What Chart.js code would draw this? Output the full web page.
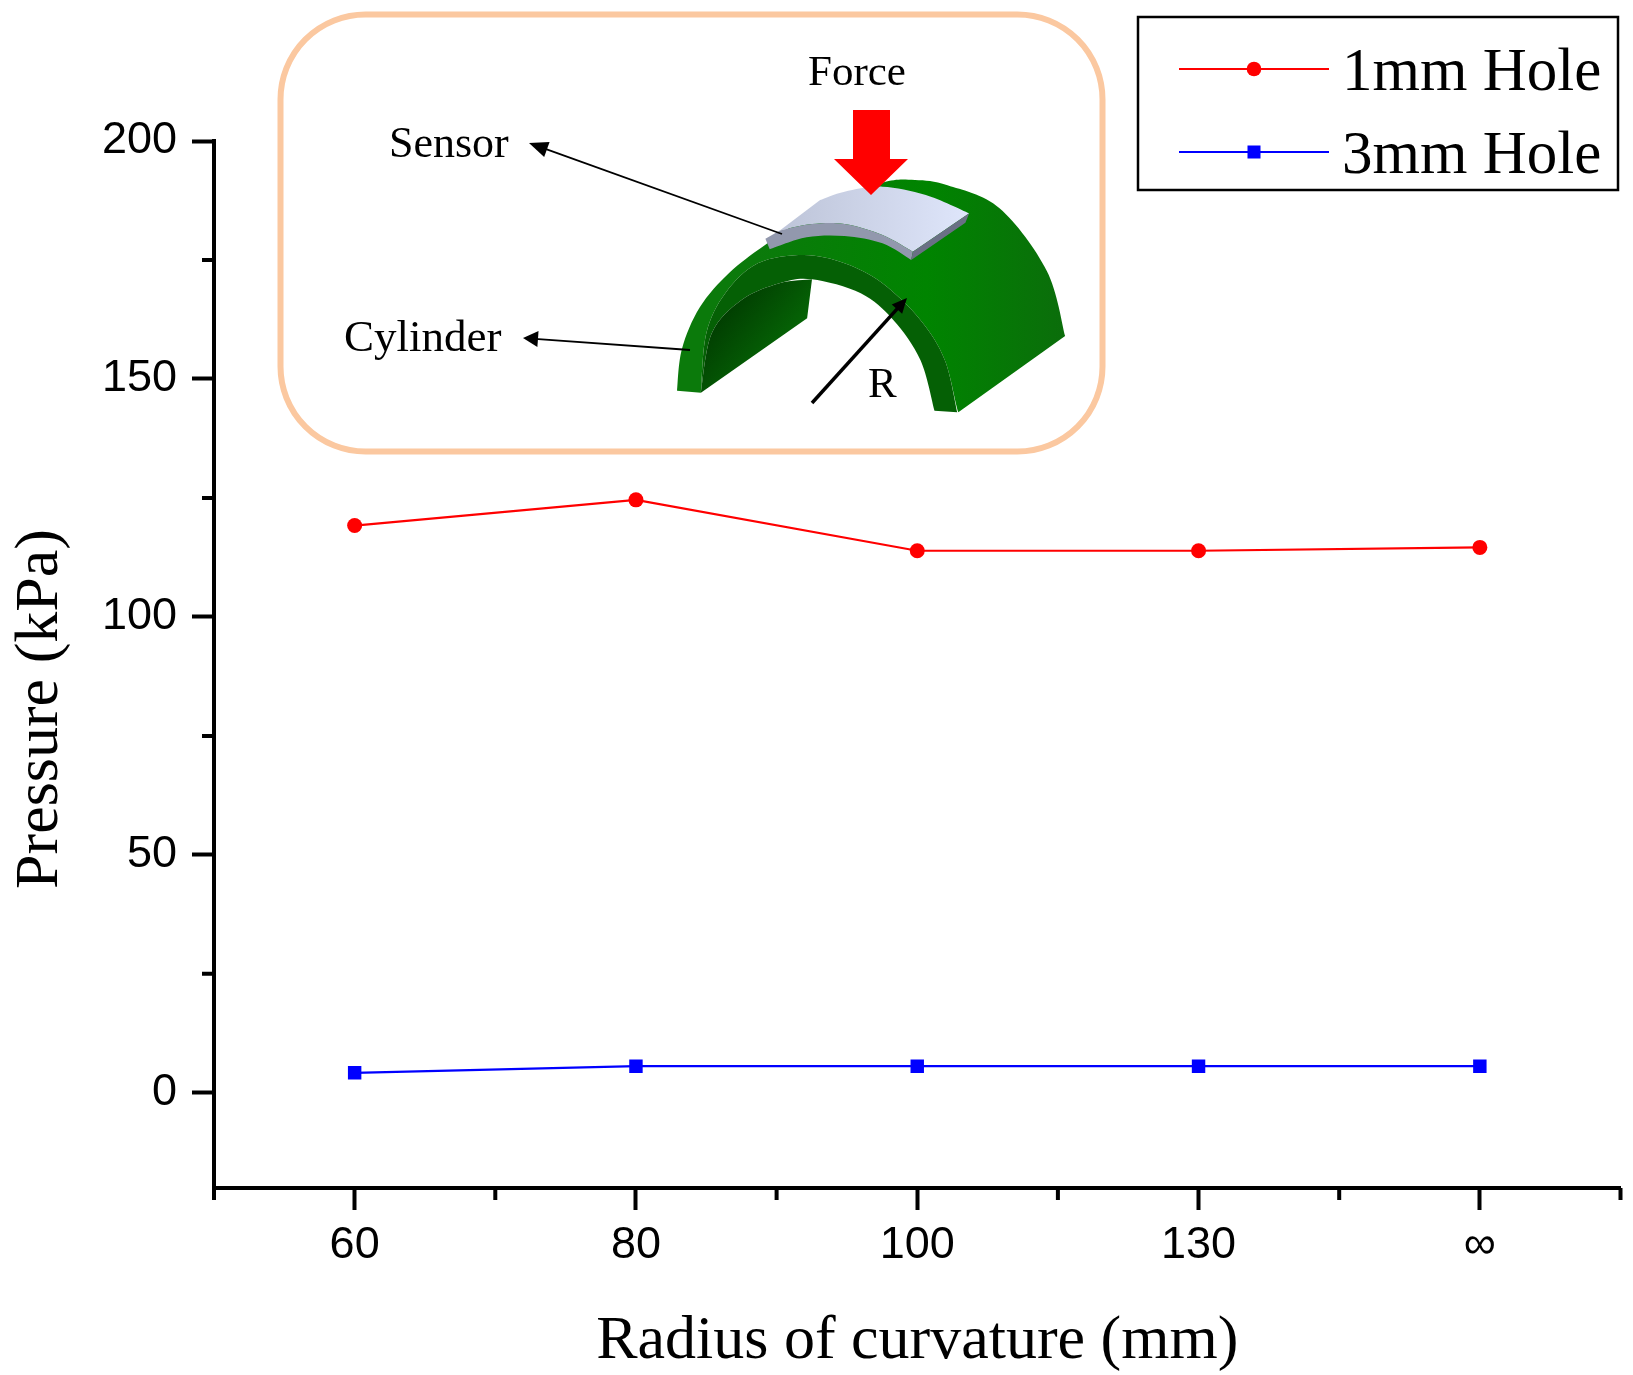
<!DOCTYPE html>
<html>
<head>
<meta charset="utf-8">
<title>Pressure vs radius of curvature</title>
<script src="https://cdn.jsdelivr.net/npm/chart.js@4"></script>
<style>
  html, body { margin: 0; padding: 0; background: #fff; }
  canvas { display: block; }
</style>
</head>
<body>
<canvas id="chart" width="1633" height="1375"></canvas>
<script>
// data
const categories = ['60', '80', '100', '130', '\u221E'];
const hole1mm = [119.2, 124.6, 113.9, 113.9, 114.6];
const hole3mm = [4.2, 5.6, 5.6, 5.6, 5.6];
const yMajorTicks = [0, 50, 100, 150, 200];
const yMinorTicks = [25, 75, 125, 175];
const xMinorTicks = [-0.5, 0.5, 1.5, 2.5, 3.5, 4.5];
const seriesNames = ['1mm Hole', '3mm Hole'];
const xTitle = 'Radius of curvature (mm)';
const yTitle = 'Pressure (kPa)';

const SERIF = '"Liberation Serif", serif';
const SANS = '"Liberation Sans", Arial, sans-serif';
const AXIS_WIDTH = 4;

// minor ticks, the library only has one tick length per axis
const minorTicks = {
  id: 'minorTicks',
  afterDraw(chart) {
    const { ctx, scales: { x, y } } = chart;
    ctx.save();
    ctx.strokeStyle = '#000';
    ctx.lineWidth = AXIS_WIDTH;
    ctx.beginPath();
    xMinorTicks.forEach(v => {
      const px = x.getPixelForValue(v);
      ctx.moveTo(px, x.top);
      ctx.lineTo(px, x.top + 12);
    });
    yMinorTicks.forEach(v => {
      const py = y.getPixelForValue(v);
      ctx.moveTo(y.right, py);
      ctx.lineTo(y.right - 12, py);
    });
    ctx.stroke();
    ctx.restore();
  }
};

// y title sits lower than the middle of the axis in the figure
const yTitlePlugin = {
  id: 'yTitlePlugin',
  afterDraw(chart) {
    const { ctx } = chart;
    ctx.save();
    ctx.translate(41, 709);
    ctx.rotate(-Math.PI / 2);
    ctx.font = '62px ' + SERIF;
    ctx.fillStyle = '#000';
    ctx.textAlign = 'center';
    ctx.textBaseline = 'middle';
    ctx.fillText(yTitle, 0, 0);
    ctx.restore();
  }
};

// legend box: line with the marker in the middle
const boxLegend = {
  id: 'boxLegend',
  afterDraw(chart) {
    const { ctx } = chart;
    ctx.save();
    ctx.fillStyle = '#fff';
    ctx.fillRect(1138, 17, 480, 173);
    ctx.strokeStyle = '#000';
    ctx.lineWidth = 2.5;
    ctx.strokeRect(1138, 17, 480, 173);
    const rows = [69, 152];
    chart.data.datasets.forEach((ds, i) => {
      const yy = rows[i];
      ctx.strokeStyle = ds.borderColor;
      ctx.fillStyle = ds.borderColor;
      ctx.lineWidth = 2;
      ctx.beginPath();
      ctx.moveTo(1179, yy);
      ctx.lineTo(1329, yy);
      ctx.stroke();
      if (ds.pointStyle === 'circle') {
        ctx.beginPath();
        ctx.arc(1254, yy, 7.3, 0, Math.PI * 2);
        ctx.fill();
      } else {
        ctx.fillRect(1247.5, yy - 6.5, 13, 13);
      }
      ctx.fillStyle = '#000';
      ctx.font = '61px ' + SERIF;
      ctx.textAlign = 'left';
      ctx.textBaseline = 'alphabetic';
      ctx.fillText(ds.label, 1342, yy + 21);
    });
    ctx.restore();
  }
};

// inset drawing, coordinates measured on the zoomed crop
const ix = v => 270 + v / 1.845;
const iy = v => v / 3;

// continues the current path through pts (catmull-rom), path must already be at pts[0]
function curveThrough(ctx, pts) {
  for (let i = 0; i < pts.length - 1; i++) {
    const p0 = pts[Math.max(i - 1, 0)];
    const p1 = pts[i];
    const p2 = pts[i + 1];
    const p3 = pts[Math.min(i + 2, pts.length - 1)];
    ctx.bezierCurveTo(
      ix(p1[0] + (p2[0] - p0[0]) / 6), iy(p1[1] + (p2[1] - p0[1]) / 6),
      ix(p2[0] - (p3[0] - p1[0]) / 6), iy(p2[1] - (p3[1] - p1[1]) / 6),
      ix(p2[0]), iy(p2[1])
    );
  }
}

function arrow(ctx, x1, y1, x2, y2, width, headLen, headWide) {
  const a = Math.atan2(y2 - y1, x2 - x1);
  ctx.strokeStyle = '#000';
  ctx.fillStyle = '#000';
  ctx.lineWidth = width;
  ctx.beginPath();
  ctx.moveTo(x1, y1);
  ctx.lineTo(x2 - Math.cos(a) * headLen * 0.8, y2 - Math.sin(a) * headLen * 0.8);
  ctx.stroke();
  ctx.beginPath();
  ctx.moveTo(x2, y2);
  ctx.lineTo(x2 - Math.cos(a) * headLen - Math.sin(a) * headWide, y2 - Math.sin(a) * headLen + Math.cos(a) * headWide);
  ctx.lineTo(x2 - Math.cos(a) * headLen + Math.sin(a) * headWide, y2 - Math.sin(a) * headLen - Math.cos(a) * headWide);
  ctx.closePath();
  ctx.fill();
}

const ringOuter = [[795, 1178], [805, 1000], [840, 880], [900, 790], [985, 765], [1060, 790], [1130, 850], [1200, 960], [1245, 1080], [1268, 1237]];
const ringInner = [[1226, 1232], [1200, 1080], [1150, 960], [1090, 880], [1000, 838], [940, 850], [870, 900], [815, 1000], [795, 1178]];

const inset = {
  id: 'inset',
  afterDraw(chart) {
    const { ctx } = chart;
    ctx.save();

    // frame
    ctx.strokeStyle = '#FBC8A0';
    ctx.lineWidth = 6;
    ctx.beginPath();
    ctx.roundRect(280.5, 14.5, 822, 437, 85);
    ctx.stroke();

    // cylinder outer surface
    let g = ctx.createLinearGradient(ix(900), 0, ix(1467), 0);
    g.addColorStop(0, '#0b7a0b');
    g.addColorStop(0.55, '#008400');
    g.addColorStop(1, '#0b6d0b');
    ctx.fillStyle = g;
    ctx.beginPath();
    ctx.moveTo(ix(751), iy(1172));
    curveThrough(ctx, [[751, 1172], [760, 1047], [793, 922], [847, 819], [914, 734], [1020, 620], [1130, 548], [1190, 540], [1250, 556], [1346, 625], [1433, 812], [1467, 1008]]);
    ctx.lineTo(ix(1270), iy(1237));
    curveThrough(ctx, ringOuter.slice().reverse());
    ctx.closePath();
    ctx.fill();

    // front ring
    ctx.fillStyle = '#056005';
    ctx.beginPath();
    ctx.moveTo(ix(795), iy(1178));
    curveThrough(ctx, ringOuter);
    ctx.lineTo(ix(1226), iy(1232));
    curveThrough(ctx, ringInner);
    ctx.closePath();
    ctx.fill();

    // inside of the cylinder
    g = ctx.createLinearGradient(ix(850), iy(900), ix(960), iy(1050));
    g.addColorStop(0, '#013d01');
    g.addColorStop(1, '#066806');
    ctx.fillStyle = g;
    ctx.beginPath();
    ctx.moveTo(ix(1000), iy(838));
    curveThrough(ctx, [[1000, 838], [940, 850], [870, 900], [815, 1000], [795, 1178]]);
    ctx.lineTo(ix(991), iy(955));
    ctx.closePath();
    ctx.fill();

    // sensor top
    g = ctx.createLinearGradient(ix(960), 0, ix(1290), 0);
    g.addColorStop(0, '#bfc6da');
    g.addColorStop(1, '#dfe6fb');
    ctx.fillStyle = g;
    ctx.beginPath();
    ctx.moveTo(ix(940), iy(692));
    ctx.lineTo(ix(1015), iy(600));
    curveThrough(ctx, [[1015, 600], [1060, 575], [1130, 560], [1210, 585], [1290, 640]]);
    ctx.lineTo(ix(1186), iy(755));
    curveThrough(ctx, [[1186, 755], [1130, 705], [1060, 672], [1000, 672], [940, 692]]);
    ctx.closePath();
    ctx.fill();

    // sensor front edge
    ctx.fillStyle = '#9298ad';
    ctx.beginPath();
    ctx.moveTo(ix(914), iy(716));
    ctx.lineTo(ix(940), iy(692));
    curveThrough(ctx, [[940, 692], [1000, 672], [1060, 672], [1130, 705], [1186, 755]]);
    ctx.lineTo(ix(1183), iy(780));
    curveThrough(ctx, [[1183, 780], [1130, 730], [1060, 708], [990, 712], [922, 748]]);
    ctx.closePath();
    ctx.fill();

    // sensor side edge
    ctx.fillStyle = '#6a7085';
    ctx.beginPath();
    ctx.moveTo(ix(1290), iy(640));
    ctx.lineTo(ix(1283), iy(668));
    ctx.lineTo(ix(1183), iy(780));
    ctx.lineTo(ix(1186), iy(755));
    ctx.closePath();
    ctx.fill();

    // force arrow
    ctx.fillStyle = '#FF0000';
    ctx.beginPath();
    ctx.moveTo(853, 110);
    ctx.lineTo(890, 110);
    ctx.lineTo(890, 159);
    ctx.lineTo(908, 159);
    ctx.lineTo(871, 195);
    ctx.lineTo(834, 159);
    ctx.lineTo(853, 159);
    ctx.closePath();
    ctx.fill();

    // pointer arrows
    arrow(ctx, 782, 234, 529, 143, 1.8, 19, 8);
    arrow(ctx, 690, 350, 523, 338, 1.8, 15, 8);
    arrow(ctx, 812, 403, 907, 298, 3.5, 15, 7);

    // labels
    ctx.fillStyle = '#000';
    ctx.textAlign = 'left';
    ctx.textBaseline = 'alphabetic';
    ctx.font = '43px ' + SERIF;
    ctx.fillText('Force', 808, 85);
    ctx.fillText('R', 868, 397);
    ctx.font = '44px ' + SERIF;
    ctx.fillText('Sensor', 389, 157);
    ctx.font = '45px ' + SERIF;
    ctx.fillText('Cylinder', 344, 351);
    ctx.restore();
  }
};

new Chart(document.getElementById('chart'), {
  type: 'line',
  plugins: [minorTicks, yTitlePlugin, boxLegend, inset],
  data: {
    labels: categories,
    datasets: [
      {
        label: seriesNames[0],
        data: hole1mm,
        borderColor: '#FF0000',
        backgroundColor: '#FF0000',
        borderWidth: 2.2,
        pointStyle: 'circle',
        pointRadius: 7.5,
        pointBorderWidth: 0,
        tension: 0
      },
      {
        label: seriesNames[1],
        data: hole3mm,
        borderColor: '#0000FF',
        backgroundColor: '#0000FF',
        borderWidth: 2.2,
        pointStyle: 'rect',
        pointRadius: 9.5,
        pointBorderWidth: 0,
        tension: 0
      }
    ]
  },
  options: {
    responsive: false,
    devicePixelRatio: 1,
    animation: false,
    layout: { padding: { left: 0, right: 12.5, top: 141, bottom: 0 } },
    plugins: { legend: { display: false }, title: { display: false }, tooltip: { enabled: false } },
    scales: {
      x: {
        type: 'category',
        offset: true,
        afterFit: s => { s.height = 1375 - 1188; },
        border: { color: '#000', width: AXIS_WIDTH },
        grid: { drawOnChartArea: false, drawTicks: true, tickLength: 22, tickWidth: AXIS_WIDTH, tickColor: '#000', offset: false },
        ticks: { color: '#000', font: { family: SANS, size: 45 }, padding: 9, maxRotation: 0, autoSkip: false },
        title: { display: true, text: xTitle, color: '#000', font: { family: SERIF, size: 62, lineHeight: 1 }, padding: { top: 0, bottom: 2 } }
      },
      y: {
        min: -20,
        max: 200,
        afterFit: s => { s.width = 214; },
        afterBuildTicks: s => { s.ticks = yMajorTicks.map(value => ({ value })); },
        border: { color: '#000', width: AXIS_WIDTH },
        grid: { drawOnChartArea: false, drawTicks: true, tickLength: 22, tickWidth: AXIS_WIDTH, tickColor: '#000' },
        ticks: { color: '#000', font: { family: SANS, size: 45 }, padding: 15 }
      }
    }
  }
});
</script>
</body>
</html>
